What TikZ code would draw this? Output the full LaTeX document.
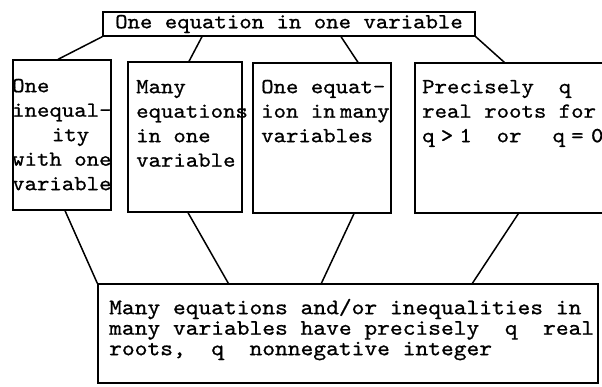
\documentclass[tikz,border=0pt]{standalone}
\usepackage{fontspec}
\newfontfamily\typer[FakeStretch=1.1,FakeBold=0.8]{lmmono10-regular.otf}
\usetikzlibrary{positioning}

\tikzset{
  box/.style={draw,line width=1.3pt,inner sep=0pt},
  boxtext/.style={anchor=north west,inner sep=0pt,align=left,
    font=\typer\fontsize{21.5}{24.5}\selectfont},
  link/.style={line width=1.5pt},
}
\newcommand{\firstln}{\rule{0pt}{16pt}}
\newcommand{\blank}[1]{\hspace*{#1\fontcharwd\font`x}}

\begin{document}
\begin{tikzpicture}[x=1pt,y=-1pt]
  \useasboundingbox (0,0) rectangle (602,386);

  % top statement
  \node[box,minimum width=372pt,minimum height=24pt,
    font=\typer\fontsize{21.5}{24}\selectfont] (top) at (289,24)
    {One equation in one variable};

  % the four cases
  \node[box,minimum width=98pt,minimum height=150pt] (ineq) at (62,135) {};
  \node[box,minimum width=114pt,minimum height=150pt] (manyeq) at (185,137) {};
  \node[box,minimum width=138pt,minimum height=150pt] (manyvar) at (322,138) {};
  \node[box,minimum width=191pt,minimum height=150pt] (qroots) at (510.5,138) {};

  \node[boxtext] (ineqtext) at (12,76)
    {\firstln One\\inequal-\\\blank{3.2}ity\\with one\\variable};
  \node[boxtext] (manyeqtext) at (136,77)
    {\firstln Many\\equations\\in one\\variable};
  \node[boxtext] (manyvartext) at (261,77)
    {\firstln One equat-\\ion in\blank{0.35}many\\variables};
  \node[boxtext] (qrootstext) at (422,77)
    {\firstln Precisely\blank{2}q\\real roots for\\
     q\blank{0.5}>\blank{0.5}1\blank{2}or\blank{2.5}q\blank{0.5}=\blank{0.6}0};

  % general statement
  \node[box,minimum width=500pt,minimum height=99pt] (general) at (348,333.5) {};
  \node[boxtext,font=\typer\fontsize{22.1}{20.5}\selectfont]
    (generaltext) at (109,298)
    {\firstln Many equations and/or inequalities in\\
     many variables have precisely\blank{2}q\blank{2}real\\
     roots,\blank{2}q\blank{2}nonnegative integer};

  \draw[link] (top.south west) -- ([xshift=-4pt]ineq.north);
  \draw[link] ([xshift=-87pt]top.south) -- ([xshift=4pt]manyeq.north);
  \draw[link] ([xshift=52pt]top.south) -- ([xshift=36pt]manyvar.north);
  \draw[link] (top.south east) -- ([xshift=90pt]qroots.north west);

  \draw[link] ([xshift=3pt]ineq.south) -- (general.north west);
  \draw[link] ([xshift=3pt]manyeq.south) -- ([xshift=131pt]general.north west);
  \draw[link] ([xshift=32pt]manyvar.south) -- ([xshift=224pt]general.north west);
  \draw[link] ([xshift=104pt]qroots.south west) -- ([xshift=375pt]general.north west);
\end{tikzpicture}
\end{document}
